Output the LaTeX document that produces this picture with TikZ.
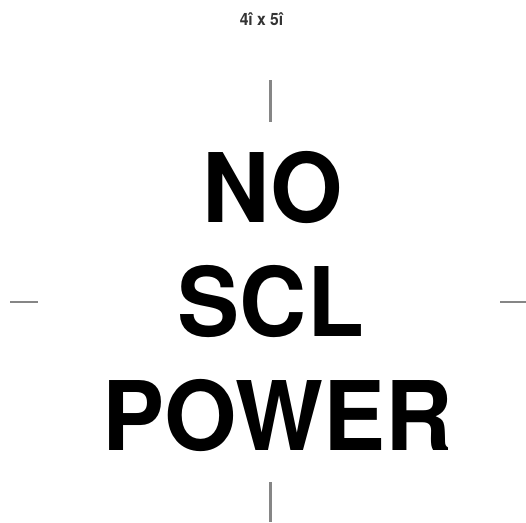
\documentclass[tikz,border=0pt]{standalone}
\usepackage{fontspec}
\setmainfont{TeX Gyre Heros}
\begin{document}
\begin{tikzpicture}[x=1pt,y=-1pt,
  tick/.style={draw=gray!95, line width=2.6pt},
  big/.style={font=\bfseries\fontsize{96}{96}\selectfont, anchor=base, inner sep=0pt, text=black, xscale=0.97},
  head/.style={font=\bfseries\fontsize{17}{17}\selectfont, anchor=base, inner sep=0pt, text=black!80, xscale=0.92}]
\useasboundingbox (0,0) rectangle (526,522);
\node[head] (hd) at (261.5,25) {4î x 5î};
\node[big] (l1) at (272.5,222) {NO};
\node[big] (l2) at (271,336) {SCL};
\node[big] (l3) at (277.5,450) {POWER};
\coordinate (t1) at (270.5,80);
\coordinate (t2) at (270.5,122);
\coordinate (b1) at (270.5,482);
\coordinate (b2) at (270.5,522);
\coordinate (lf1) at (10,302);
\coordinate (lf2) at (38,302);
\coordinate (r1) at (500,302);
\coordinate (r2) at (526,302);
\draw[tick] (t1) -- (t2);
\draw[tick] (b1) -- (b2);
\draw[tick] (lf1) -- (lf2);
\draw[tick] (r1) -- (r2);
\end{tikzpicture}
\end{document}
